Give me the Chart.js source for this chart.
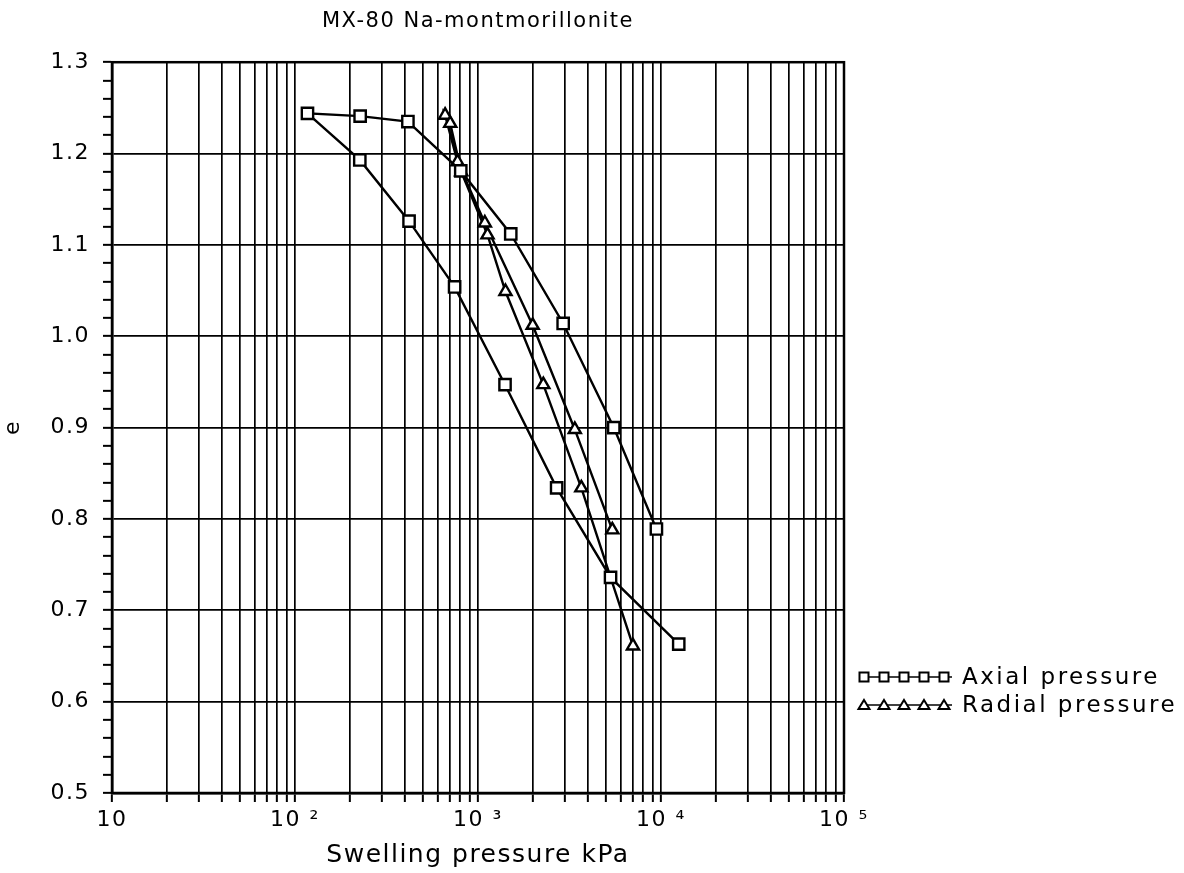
<!DOCTYPE html>
<html><head><meta charset="utf-8">
<script src="https://cdn.jsdelivr.net/npm/chart.js@4/dist/chart.umd.min.js"></script>
<style>html,body{margin:0;padding:0;background:#fff}#wrap{position:relative;width:1184px;height:873px}</style>
</head><body><div id="wrap"><canvas id="c" width="1184" height="873"></canvas></div>
<script>
const chartTitle = 'MX-80 Na-montmorillonite';
const xAxisTitle = 'Swelling pressure kPa';
const yAxisTitle = 'e';
const seriesNames = ['Axial pressure', 'Radial pressure'];
const axialPressure = [12500, 5300, 2690, 1405, 745, 420, 226, 117, 227, 414, 805, 1510, 2920, 5520, 9440];
const axialE       = [0.663, 0.736, 0.834, 0.947, 1.054, 1.126, 1.193, 1.244, 1.241, 1.235, 1.181, 1.112, 1.014, 0.900, 0.789];
const radialPressure = [5420, 3380, 1990, 1090, 773, 661, 705, 810, 1127, 1413, 2275, 3670, 7030];
const radialE        = [0.788, 0.898, 1.012, 1.124, 1.191, 1.242, 1.233, 1.180, 1.111, 1.049, 0.947, 0.834, 0.661];
const xMajorTicks = [10, 100, 1000, 10000, 100000];
const xTickLabels = ['10', '10 \u00B2', '10 \u00B3', '10 \u2074', '10 \u2075'];
const yMin = 0.5, yMax = 1.3;

const FONT = "'DejaVu Sans', sans-serif";
const toPts = (xs, ys) => xs.map((x, i) => ({x: x, y: ys[i]}));

const frame = {
  id: 'frame',
  beforeDraw(chart) { chart.ctx.letterSpacing = '1.5px'; },
  afterDatasetsDraw(chart) {
    const {ctx, chartArea: a} = chart;
    ctx.save();
    ctx.strokeStyle = '#000';
    ctx.lineWidth = 2.5;
    ctx.strokeRect(a.left, a.top, a.right - a.left, a.bottom - a.top);
    ctx.restore();
  },
  afterDraw(chart) {
    const ctx = chart.ctx;
    ctx.save();
    ctx.font = "23px " + FONT;
    ctx.letterSpacing = '2.5px';
    ctx.fillStyle = '#000';
    ctx.textBaseline = 'middle';
    ctx.textAlign = 'left';
    const rows = [{y: 677, style: 'rect'}, {y: 705, style: 'triangle'}];
    rows.forEach((r, i) => {
      ctx.strokeStyle = '#000';
      ctx.lineWidth = 1.5;
      ctx.beginPath(); ctx.moveTo(860, r.y); ctx.lineTo(952, r.y); ctx.stroke();
      for (let k = 0; k < 5; k++) {
        const cx = 864 + k * 20;
        ctx.fillStyle = '#fff';
        ctx.lineWidth = 2;
        ctx.beginPath();
        if (r.style === 'rect') {
          ctx.rect(cx - 4.5, r.y - 4.5, 9, 9);
        } else {
          ctx.moveTo(cx, r.y - 5); ctx.lineTo(cx + 5.5, r.y + 4); ctx.lineTo(cx - 5.5, r.y + 4); ctx.closePath();
        }
        ctx.fill(); ctx.stroke();
      }
      ctx.fillStyle = '#000';
      ctx.fillText(seriesNames[i], 962, r.y + 1);
    });
    ctx.restore();
  }
};

new Chart(document.getElementById('c'), {
  type: 'scatter',
  data: {
    datasets: [
      {label: seriesNames[0], data: toPts(axialPressure, axialE), showLine: true,
       borderColor: '#000', borderWidth: 2.4, pointStyle: 'rect', pointRadius: 8,
       pointBorderWidth: 2.4, pointBackgroundColor: '#fff', pointBorderColor: '#000', tension: 0},
      {label: seriesNames[1], data: toPts(radialPressure, radialE), showLine: true,
       borderColor: '#000', borderWidth: 2.4, pointStyle: 'triangle', pointRadius: 7,
       pointBorderWidth: 2.4, pointBackgroundColor: '#fff', pointBorderColor: '#000', tension: 0}
    ]
  },
  options: {
    responsive: false, animation: false,
    layout: {padding: {left: 0, right: 340, top: 0, bottom: 0}},
    plugins: {
      legend: {display: false},
      tooltip: {enabled: false},
      title: {display: true, text: chartTitle, fullSize: false, color: '#000',
              font: {family: FONT, size: 21, weight: 'normal'}, padding: {top: 9, bottom: 28}}
    },
    scales: {
      x: {
        type: 'logarithmic', min: 10, max: 100000,
        afterFit(s) { s.height = 80; },
        afterBuildTicks(s) {
          const t = [];
          for (let d = 0; d < xMajorTicks.length - 1; d++)
            for (let m = 1; m <= 9; m++) t.push({value: m * xMajorTicks[d]});
          t.push({value: xMajorTicks[xMajorTicks.length - 1]});
          s.ticks = t;
        },
        ticks: {
          autoSkip: false, maxRotation: 0, minRotation: 0, padding: 5, color: '#000',
          font: {family: FONT, size: 22},
          callback(v) { const i = xMajorTicks.indexOf(v); return i >= 0 ? xTickLabels[i] : ''; }
        },
        grid: {color: '#000', lineWidth: 1.7, tickLength: 9, tickColor: '#000', tickWidth: 2},
        border: {display: true, color: '#000', width: 2.5},
        title: {display: true, text: xAxisTitle, color: '#000', font: {family: FONT, size: 25},
                padding: {top: 0, bottom: 3}}
      },
      y: {
        type: 'linear', min: yMin, max: yMax,
        afterFit(s) { s.width = 112; },
        afterBuildTicks(s) {
          const t = [];
          for (let k = 0; k <= 40; k++) t.push({value: Math.round((yMin + k * 0.02) * 100) / 100});
          s.ticks = t;
        },
        ticks: {
          autoSkip: false, padding: 13, color: '#000', font: {family: FONT, size: 22},
          callback(v) { return Math.abs(v * 10 - Math.round(v * 10)) < 1e-6 ? v.toFixed(1) : ''; }
        },
        grid: {
          color(c) { const v = c.tick ? c.tick.value : 0; return Math.abs(v * 10 - Math.round(v * 10)) < 1e-6 ? '#000' : 'rgba(0,0,0,0)'; },
          tickColor: '#000', lineWidth: 1.7, tickLength: 9, tickWidth: 2
        },
        border: {display: true, color: '#000', width: 2.5},
        title: {display: true, text: yAxisTitle, color: '#000', font: {family: FONT, size: 22},
                padding: {top: 0, bottom: 0}}
      }
    }
  },
  plugins: [frame]
});
</script></body></html>
